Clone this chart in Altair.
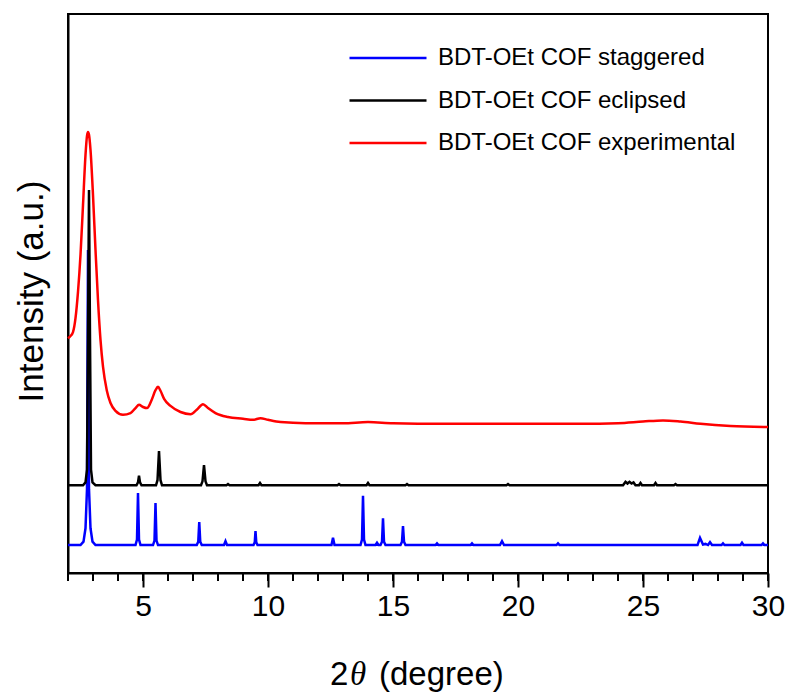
import altair as alt
import pandas as pd

# Powder XRD patterns of BDT-OEt COF: two simulated stackings and the measured pattern.
# Intensities are in arbitrary units on a 0-100 scale; curves are offset vertically.

SERIES = ["BDT-OEt COF staggered", "BDT-OEt COF eclipsed", "BDT-OEt COF experimental"]
COLORS = ["#0000ff", "#000000", "#ff0000"]

# Measured pattern
exp_x = [2.00, 2.10, 2.20, 2.30, 2.40, 2.50, 2.60, 2.70, 2.76, 2.80, 2.84, 2.90, 3.00,
         3.10, 3.20, 3.30, 3.40, 3.55, 3.70, 3.90, 4.20, 4.50, 4.70, 4.84, 5.00, 5.16,
         5.35, 5.50, 5.60, 5.70, 5.85, 6.10, 6.50, 6.90, 7.15, 7.40, 7.60, 7.90, 8.40,
         9.00, 9.40, 9.70, 10.0, 10.5, 11.5, 13.0, 14.0, 15.0, 17.0, 19.0, 21.0, 22.5,
         24.0, 25.0, 25.8, 26.5, 27.3, 28.5, 30.0]
exp_y = [42.0, 42.4, 43.1, 45.6, 50.3, 56.9, 65.8, 74.8, 78.2, 78.9, 78.4, 75.7, 67.6,
         57.8, 48.8, 41.7, 36.9, 32.7, 30.4, 29.0, 28.3, 28.6, 29.5, 30.1, 29.7, 29.5,
         31.0, 32.7, 33.3, 32.6, 31.1, 29.9, 28.8, 28.4, 29.2, 30.2, 29.5, 28.6, 27.9,
         27.6, 27.4, 27.7, 27.4, 27.0, 26.8, 26.8, 27.0, 26.8, 26.7, 26.7, 26.7, 26.7,
         26.8, 27.1, 27.3, 27.1, 26.7, 26.3, 26.1]

# Simulated, eclipsed stacking
ecl_x = [2.00, 2.60, 2.70, 2.76, 2.80, 2.84, 2.88, 2.92, 2.98, 3.10,
         4.74, 4.80, 4.84, 4.88, 4.94,
         5.52, 5.58, 5.64, 5.70, 5.76,
         7.32, 7.38, 7.44, 7.50, 7.56,
         8.34, 8.40, 8.46,
         9.62, 9.68, 9.74,
         12.78, 12.84, 12.90,
         13.94, 14.00, 14.06,
         15.50, 15.56, 15.62,
         19.54, 19.60, 19.66,
         24.20, 24.30, 24.38, 24.46, 24.54, 24.62, 24.70,
         24.84, 24.90, 24.96,
         25.44, 25.50, 25.56,
         26.24, 26.30, 26.36,
         30.00]
ecl_y = [15.7, 15.7, 16.2, 18.5, 42.0, 68.5, 42.0, 18.5, 16.2, 15.7,
         15.7, 16.2, 17.4, 16.2, 15.7,
         15.7, 16.6, 21.8, 16.6, 15.7,
         15.7, 16.4, 19.3, 16.4, 15.7,
         15.7, 15.9, 15.7,
         15.7, 16.1, 15.7,
         15.7, 15.9, 15.7,
         15.7, 16.1, 15.7,
         15.7, 15.9, 15.7,
         15.7, 15.9, 15.7,
         15.7, 16.3, 16.0, 16.3, 16.0, 16.2, 15.7,
         15.7, 16.1, 15.7,
         15.7, 16.1, 15.7,
         15.7, 15.9, 15.7,
         15.7]

# Simulated, staggered stacking
stg_x = [2.00, 2.50, 2.62, 2.70, 2.76, 2.80, 2.84, 2.90, 2.98, 3.10,
         4.70, 4.76, 4.80, 4.84, 4.90,
         5.40, 5.46, 5.50, 5.54, 5.60,
         7.15, 7.21, 7.25, 7.29, 7.35,
         8.24, 8.30, 8.36,
         9.42, 9.47, 9.50, 9.53, 9.58,
         12.54, 12.60, 12.66,
         13.70, 13.76, 13.80, 13.84, 13.90,
         14.30, 14.36, 14.42,
         14.50, 14.56, 14.60, 14.64, 14.70,
         15.30, 15.36, 15.40, 15.44, 15.50,
         16.70, 16.76, 16.82,
         18.10, 18.16, 18.22,
         19.28, 19.36, 19.44,
         21.54, 21.60, 21.66,
         27.18, 27.28, 27.40, 27.50, 27.60, 27.68, 27.76,
         28.14, 28.20, 28.26,
         28.90, 28.96, 29.02,
         29.74, 29.80, 29.86,
         30.00]
stg_y = [5.0, 5.0, 5.6, 8.0, 15.0, 57.8, 15.0, 8.0, 5.6, 5.0,
         5.0, 6.0, 14.3, 6.0, 5.0,
         5.0, 5.8, 12.5, 5.8, 5.0,
         5.0, 5.6, 9.1, 5.6, 5.0,
         5.0, 5.7, 5.0,
         5.0, 5.5, 7.5, 5.5, 5.0,
         5.0, 6.3, 5.0,
         5.0, 6.0, 13.8, 6.0, 5.0,
         5.0, 5.4, 5.0,
         5.0, 5.6, 9.8, 5.6, 5.0,
         5.0, 5.6, 8.4, 5.6, 5.0,
         5.0, 5.3, 5.0,
         5.0, 5.3, 5.0,
         5.0, 5.7, 5.0,
         5.0, 5.3, 5.0,
         5.0, 6.3, 5.1, 5.2, 5.0, 5.5, 5.0,
         5.0, 5.3, 5.0,
         5.0, 5.4, 5.0,
         5.0, 5.3, 5.0,
         5.0]

MAJOR_TICKS = [5, 10, 15, 20, 25, 30]
MINOR_TICKS = list(range(2, 31))
X_TITLE_PARTS = ["2", "\u03b8", "(degree)"]

W, H = 700, 559
FONT = "Liberation Sans"

x_scale = alt.Scale(domain=[2, 30], nice=False, zero=False)
y_scale = alt.Scale(domain=[0, 100], nice=False, zero=False)
color_scale = alt.Scale(domain=SERIES, range=COLORS)

legend = alt.Legend(
    title=None, orient="none", legendX=280, legendY=27, padding=0,
    symbolType="stroke", symbolSize=5929, symbolStrokeWidth=2.5,
    labelFont=FONT, labelFontSize=24, labelColor="black", labelOffset=10,
    clipHeight=34, rowPadding=8.5, labelLimit=400,
)

x_axis = alt.Axis(
    values=MAJOR_TICKS, title=None, grid=False,
    tickSize=14, tickWidth=2, tickColor="black",
    domainColor="black", domainWidth=2,
    labelFont=FONT, labelFontSize=30, labelColor="black", labelPadding=4,
    labelFlush=False,
)
y_axis = alt.Axis(
    labels=False, ticks=False, grid=False,
    domainColor="black", domainWidth=2,
    title="Intensity (a.u.)", titleFont=FONT, titleFontSize=35,
    titleFontWeight="normal", titleColor="black",
    titleAngle=270, titleX=-26, titleY=277, titleAlign="center",
    titleBaseline="alphabetic",
)


def curve(xs, ys, name, interp):
    df = pd.DataFrame({"two_theta": xs, "intensity": ys, "series": name})
    return alt.Chart(df).mark_line(strokeWidth=2.5, interpolate=interp).encode(
        x=alt.X("two_theta:Q", scale=x_scale, axis=x_axis),
        y=alt.Y("intensity:Q", scale=y_scale, axis=y_axis),
        color=alt.Color("series:N", scale=color_scale, legend=legend),
    )


red = curve(exp_x, exp_y, SERIES[2], "monotone")
blue = curve(stg_x, stg_y, SERIES[0], "linear")
black = curve(ecl_x, ecl_y, SERIES[1], "linear")

# Short minor ticks at every degree below the x axis
minor = alt.Chart(pd.DataFrame({"t": MINOR_TICKS})).mark_rule(
    color="black", strokeWidth=2
).encode(
    x=alt.X("t:Q", scale=x_scale),
    y=alt.value(H),
    y2=alt.value(H + 8),
)

# x-axis title with an italic theta
title_2 = alt.Chart(pd.DataFrame({"t": [X_TITLE_PARTS[0]]})).mark_text(
    font=FONT, fontSize=33, align="left", baseline="alphabetic", color="black"
).encode(text="t:N", x=alt.value(262), y=alt.value(671))
title_theta = alt.Chart(pd.DataFrame({"t": [X_TITLE_PARTS[1]]})).mark_text(
    font="Liberation Serif", fontSize=33, fontStyle="italic", align="left",
    baseline="alphabetic", color="black"
).encode(text="t:N", x=alt.value(282), y=alt.value(671))
title_deg = alt.Chart(pd.DataFrame({"t": [X_TITLE_PARTS[2]]})).mark_text(
    font=FONT, fontSize=33, align="left", baseline="alphabetic", color="black"
).encode(text="t:N", x=alt.value(311), y=alt.value(671))

chart = alt.layer(
    red, blue, black, minor, title_2, title_theta, title_deg
).properties(
    width=W, height=H,
    autosize=alt.AutoSizeParams(type="none"),
    padding={"left": 68, "top": 14, "right": 21, "bottom": 120},
).configure(
    background="white"
).configure_view(
    stroke="black", strokeWidth=2
)

chart.save("out.html", embed_options={"renderer": "svg", "actions": False})
